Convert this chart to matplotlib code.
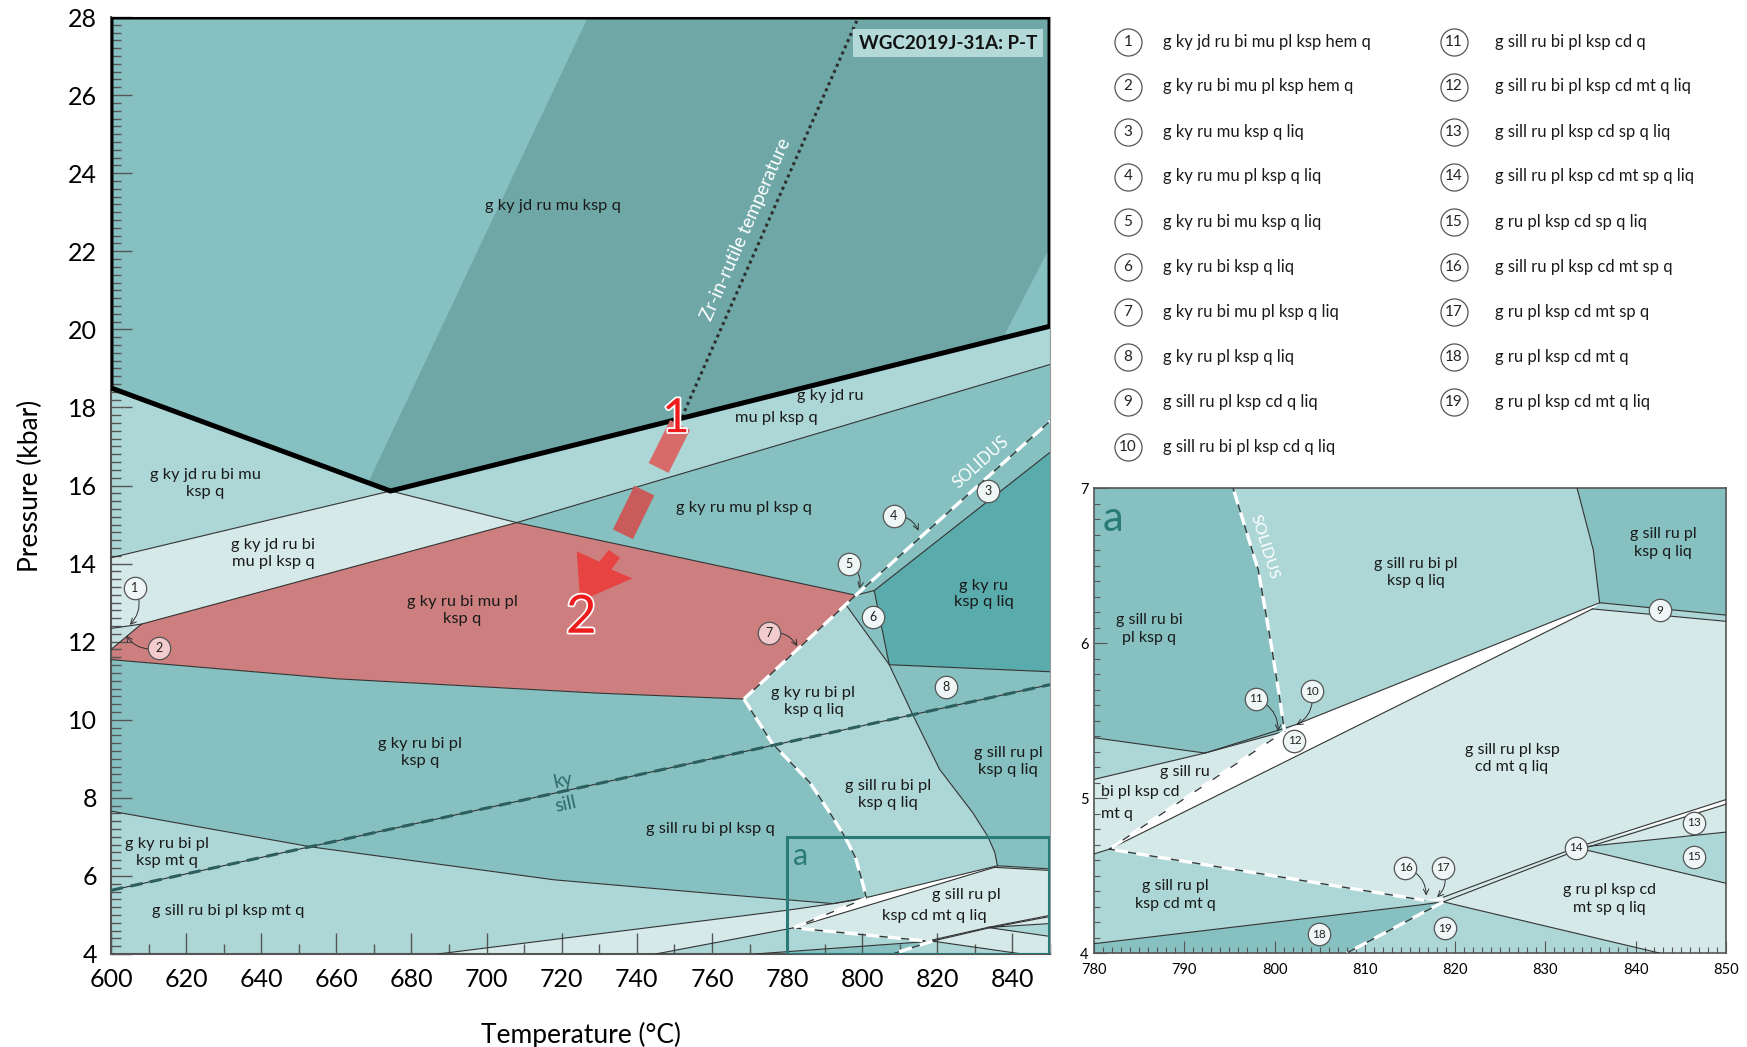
import numpy as np
import matplotlib.pyplot as plt
from matplotlib.patches import Polygon
from matplotlib.ticker import MultipleLocator
import matplotlib.patheffects as pe

plt.rcParams['font.family'] = ['Lato', 'DejaVu Sans']

# field colours
teal_dark = '#6fa7a7'
teal_mid = '#86c0c0'
teal_light = '#add6d6'
teal_pale = '#d5e9e9'
teal_deep = '#5aabab'
path_red = '#cd7e7e'
frame_teal = '#2a7a78'
line_grey = '#333333'

# ---------------- field polygons (T degC, P kbar) ----------------
top_field = [(600, 18.5), (600, 28), (850, 28), (850, 20.08), (674.4, 15.86)]
top_band = [(668.5, 16.08), (727, 28), (850, 28), (850, 22.1), (837.5, 19.78), (674.4, 15.86)]
top_corner = [(850, 22.1), (837.5, 19.78), (850, 20.08)]
jd_bi_mu = [(600, 18.5), (674.4, 15.86), (600, 14.15)]
jd_mu_pl = [(674.4, 15.86), (850, 20.08), (850, 19.1), (708, 15.05)]
jd_bi_mu_pl = [(600, 14.15), (674.4, 15.86), (708, 15.05), (608.1, 12.45), (600, 12.34)]
field_2 = [(600, 11.8), (600, 12.34), (608.1, 12.45)]
red_field = [(600, 11.54), (600, 11.8), (608.1, 12.45), (708, 15.05), (798.3, 13.19),
             (768.5, 10.53), (730, 10.68), (660, 11.05)]
ky_mu_pl = [(708, 15.05), (850, 19.1), (850, 17.65), (798.3, 13.19)]
field_3 = [(798.3, 13.19), (850, 17.65), (850, 16.85), (803.2, 13.31)]
ky_liq = [(803.2, 13.31), (850, 16.85), (850, 11.23), (807.2, 11.41)]
field_6 = [(795.7, 12.94), (798.3, 13.19), (803.2, 13.31), (807.2, 11.41)]

solidus_hi = [(768.5, 10.53), (798.3, 13.19), (850, 17.65)]
solidus_lo = [(768.5, 10.53), (776, 9.4), (786, 8.4), (791.5, 7.6), (795.4, 7.0),
              (798.2, 6.47), (799.6, 6.0), (800.5, 5.67), (801.1, 5.43)]
solidus_cd = [(801.1, 5.43), (781.7, 4.67), (816.6, 4.34)]
solidus_sp = [(818.7, 4.33), (808, 4.0)]
bi_out = [(795.7, 12.94), (807.2, 11.41), (813.5, 10.12), (820.6, 8.73), (829.5, 7.61),
          (833.5, 7.0), (835.3, 6.6), (836, 6.26)]
mt_in = [(600, 7.66), (653.5, 6.74), (718, 5.90), (760, 5.55), (792.3, 5.29)]
cd_in = [(687, 4.0), (780, 5.12), (792.3, 5.29), (802.2, 5.47), (836, 6.26)]

liq_bi = solidus_lo + [(802.2, 5.47), (836, 6.26)] + bi_out[::-1] + [(768.5, 10.53)]
liq_right = [(807.2, 11.41), (850, 11.23), (850, 6.18)] + bi_out[:1:-1]
field_9 = [(836, 6.26), (850, 6.18), (850, 6.14), (835.2, 6.22)]
bi_pl_q = [(600, 11.54), (660, 11.05), (730, 10.68)] + solidus_lo + mt_in[::-1]
bi_pl_mt = mt_in + [(780, 5.12), (687, 4.0), (600, 4.0)]
bi_cd_mt = [(687, 4.0), (780, 5.12), (792.3, 5.29), (801.1, 5.43), (781.7, 4.67), (745, 4.0)]
field_12 = [(781.7, 4.67), (801.1, 5.43), (802.2, 5.47), (836, 6.26), (835.2, 6.22)]
pl_cd_mt = [(745, 4.0), (781.7, 4.67), (816.6, 4.34), (818.7, 4.33), (816.1, 4.31),
            (780, 4.06), (771.5, 4.0)]
field_18 = [(771.5, 4.0), (780, 4.06), (816.1, 4.31), (818.7, 4.33), (808, 4.0)]
field_19 = [(808, 4.0), (818.7, 4.33), (842.6, 4.0)]
sp_liq = [(818.7, 4.33), (818.7, 4.36), (833.4, 4.68), (850, 4.45), (850, 4.0), (842.6, 4.0)]
field_15 = [(833.4, 4.68), (850, 4.78), (850, 4.45)]
field_13 = [(833.4, 4.68), (850, 4.96), (850, 4.78)]
cd_mt_liq = [(781.7, 4.67), (835.2, 6.22), (850, 6.14), (850, 4.99), (833.4, 4.68),
             (818.7, 4.36), (816.6, 4.34)]

FIELDS = [
    (top_field, teal_mid), (top_band, teal_dark), (top_corner, teal_mid),
    (jd_bi_mu, teal_light), (jd_mu_pl, teal_light), (jd_bi_mu_pl, teal_pale),
    (field_2, '#c6dfdf'), (red_field, path_red), (ky_mu_pl, teal_mid), (field_3, teal_mid),
    (ky_liq, teal_deep), (field_6, teal_mid), (liq_bi, teal_light), (liq_right, teal_mid),
    (field_9, teal_light), (bi_pl_q, teal_mid), (bi_pl_mt, teal_light), (bi_cd_mt, teal_pale),
    (field_12, 'white'), (pl_cd_mt, teal_light), (field_18, teal_mid), (field_19, teal_light),
    (sp_liq, teal_pale), (field_15, teal_light), (field_13, teal_pale), (cd_mt_liq, teal_pale),
]

# ---------------- thin field boundaries ----------------
BOUNDS = [
    [(600, 14.15), (674.4, 15.86)],
    [(674.4, 15.86), (708, 15.05), (798.3, 13.19)],
    [(600, 12.34), (608.1, 12.45), (708, 15.05), (850, 19.1)],
    [(600, 11.8), (608.1, 12.45)],
    [(600, 11.54), (660, 11.05), (730, 10.68), (768.5, 10.53)],
    [(803.2, 13.31), (850, 16.85)],
    [(798.3, 13.19), (803.2, 13.31), (807.2, 11.41), (850, 11.23)],
    bi_out,
    [(836, 6.26), (850, 6.18)], [(835.2, 6.22), (850, 6.14)],
    mt_in + [(801.1, 5.43)],
    cd_in,
    [(781.7, 4.67), (835.2, 6.22)],
    [(745, 4.0), (781.7, 4.67)],
    [(771.5, 4.0), (780, 4.06), (816.1, 4.31), (818.7, 4.33)],
    [(818.7, 4.36), (833.4, 4.68), (850, 4.99)],
    [(818.7, 4.33), (833.4, 4.66), (850, 4.96)],
    [(833.4, 4.68), (850, 4.78)], [(833.4, 4.68), (850, 4.45)],
    [(818.7, 4.33), (842.6, 4.0)],
]
SOLIDUS = [solidus_hi, solidus_lo, solidus_cd, solidus_sp]
ky_sill = [(600, 5.63), (850, 10.9)]
thick_outline = [(600, 18.5), (600, 28), (850, 28), (850, 20.08), (674.4, 15.86), (600, 18.5)]
zr_line = [(752, 17.75), (799, 28)]

# ---------------- labels ----------------
MAIN_LABELS = [
    ('g ky jd ru mu ksp q', 717.6, 23.15), ('g ky jd ru bi mu\nksp q', 625.1, 16.05),
    ('g ky jd ru bi\nmu pl ksp q', 643.2, 14.26), ('g ky ru bi mu pl\nksp q', 693.6, 12.8),
    ('g ky jd ru', 791.5, 18.3), ('mu pl ksp q', 777.2, 17.73),
    ('g ky ru mu pl ksp q', 768.6, 15.42), ('g ky ru\nksp q liq', 832.4, 13.22),
    ('g ky ru bi pl\nksp q liq', 787.0, 10.46), ('g ky ru bi pl\nksp q', 682.3, 9.16),
    ('g sill ru bi pl\nksp q liq', 806.9, 8.08), ('g sill ru pl\nksp q liq', 838.9, 8.94),
    ('g sill ru bi pl ksp q', 759.7, 7.2), ('g ky ru bi pl\nksp mt q', 615.0, 6.6),
    ('g sill ru bi pl ksp mt q', 631.3, 5.09), ('g sill ru pl', 827.6, 5.52),
    ('ksp cd mt q liq', 819.1, 4.98),
]
MAIN_NUMBERS = [('1', 606.4, 13.37), ('2', 612.9, 11.85), ('3', 833.6, 15.85),
                ('4', 808.4, 15.22), ('5', 796.6, 13.99), ('6', 803.0, 12.62),
                ('7', 775.1, 12.22), ('8', 822.3, 10.83)]
MAIN_POINTERS = {'1': (605, 12.43), '2': (604, 12.16), '4': (815, 14.84),
                 '5': (799.2, 13.36), '7': (782.7, 11.88)}
PINK_NUMBERS = ['2', '7']

INSET_LABELS = [
    ('g sill ru bi\npl ksp q', 786.1, 6.09), ('g sill ru bi pl\nksp q liq', 815.6, 6.455),
    ('g sill ru pl\nksp q liq', 843.0, 6.645), ('g sill ru pl ksp\ncd mt q liq', 826.3, 5.255),
    ('g sill ru pl\nksp cd mt q', 789.0, 4.375), ('g ru pl ksp cd\nmt sp q liq', 837.1, 4.35),
]
INSET_LEFT_LABELS = [('g sill ru', 787.3, 5.17), ('bi pl ksp cd', 780.8, 5.04), ('mt q', 780.8, 4.9)]
INSET_NUMBERS = [('9', 842.7, 6.21), ('10', 804.1, 5.69), ('11', 797.9, 5.64), ('12', 802.2, 5.37),
                 ('13', 846.5, 4.84), ('14', 833.4, 4.68), ('15', 846.5, 4.62), ('16', 814.5, 4.55),
                 ('17', 818.6, 4.55), ('18', 804.9, 4.12), ('19', 818.9, 4.16)]
INSET_POINTERS = {'11': (800.4, 5.43), '10': (802.4, 5.47), '16': (816.8, 4.37), '17': (818.0, 4.36)}

LEGEND = ['g ky jd ru bi mu pl ksp hem q', 'g ky ru bi mu pl ksp hem q', 'g ky ru mu ksp q liq',
          'g ky ru mu pl ksp q liq', 'g ky ru bi mu ksp q liq', 'g ky ru bi ksp q liq',
          'g ky ru bi mu pl ksp q liq', 'g ky ru pl ksp q liq', 'g sill ru pl ksp cd q liq',
          'g sill ru bi pl ksp cd q liq', 'g sill ru bi pl ksp cd q', 'g sill ru bi pl ksp cd mt q liq',
          'g sill ru pl ksp cd sp q liq', 'g sill ru pl ksp cd mt sp q liq', 'g ru pl ksp cd sp q liq',
          'g sill ru pl ksp cd mt sp q', 'g ru pl ksp cd mt sp q', 'g ru pl ksp cd mt q',
          'g ru pl ksp cd mt q liq']

# red P-T path
path_bar1 = [(751.5, 17.55), (745.8, 16.45)]
path_bar2 = [(742.0, 15.87), (736.3, 14.75)]
path_head = [(724, 14.31), (730, 14.05), (732.5, 14.35), (735.5, 14.15), (733.2, 13.85),
             (738.8, 13.62), (724.9, 13.04)]


def xy(pts):
    t, p = zip(*pts)
    return list(t), list(p)


def angle(ax, p0, p1):
    a = ax.transData.transform([p0, p1])
    return np.degrees(np.arctan2(a[1, 1] - a[0, 1], a[1, 0] - a[0, 0]))


def draw_fields(ax):
    for pts, col in FIELDS:
        ax.add_patch(Polygon(pts, closed=True, facecolor=col, edgecolor='none', zorder=1))
    for pts in BOUNDS:
        ax.plot(*xy(pts), color=line_grey, lw=0.8, zorder=3)
    for pts in SOLIDUS:
        ax.plot(*xy(pts), color=line_grey, lw=0.9, zorder=3)
        ax.plot(*xy(pts), color='white', lw=2.4, dashes=(4, 2.5), zorder=4)
    ax.plot(*xy(ky_sill), color=line_grey, lw=0.8, zorder=3)
    ax.plot(*xy(ky_sill), color='#2d5f5f', lw=2.2, dashes=(4, 2.5), zorder=4)


def circled(ax, items, pointers, size, fs, pink=()):
    for lab, t, p in items:
        if lab in pointers:
            ax.annotate('', xy=pointers[lab], xytext=(t, p), zorder=5,
                        arrowprops=dict(arrowstyle='->', lw=0.7, color=line_grey,
                                        shrinkA=8, shrinkB=0,
                                        connectionstyle='arc3,rad=-0.35'))
        fc = '#f2cccc' if lab in pink else '#eef6f6'
        ax.scatter([t], [p], s=size, facecolor=fc, edgecolor='#555555', lw=0.9, zorder=6)
        ax.text(t, p, lab, ha='center', va='center', fontsize=fs, color='#222222', zorder=7)


fig = plt.figure(figsize=(17.47, 10.47), dpi=100)

# ================= main P-T section =================
ax = fig.add_axes([0.06354, 0.08883, 0.5375, 0.8949])
ax.set_xlim(600, 850)
ax.set_ylim(4, 28)
draw_fields(ax)
ax.plot(*xy(thick_outline), color='black', lw=3.6, zorder=5, solid_joinstyle='miter')
ax.plot(*xy(zr_line), color='#2e2e2e', lw=2.2, ls=(0, (1, 1.2)), zorder=4)

ax.plot(*xy(path_bar1), color='#d86a6a', lw=16, solid_capstyle='butt', zorder=6)
ax.plot(*xy(path_bar2), color='#c95b5b', lw=16, solid_capstyle='butt', zorder=6)
ax.add_patch(Polygon(path_head, closed=True, facecolor='#e84343', edgecolor='none', zorder=6))
for num, t, p, fs in [('1', 750.4, 17.7, 34), ('2', 725.2, 12.6, 38)]:
    ax.text(t, p, num, color='#ee1c1c', fontsize=fs, ha='center', va='center', zorder=8,
            path_effects=[pe.withStroke(linewidth=2.5, foreground='white')])

for txt, t, p in MAIN_LABELS:
    ax.text(t, p, txt, ha='center', va='center', fontsize=11.8, linespacing=1.25,
            color='#1a1a1a', zorder=7)

ax.text(769.0, 22.55, 'Zr-in-rutile temperature', color='white', fontsize=13.5,
        rotation=angle(ax, *zr_line), ha='center', va='center', zorder=7)
ax.text(831.5, 16.6, 'SOLIDUS', color='white', fontsize=12,
        rotation=angle(ax, (798.3, 13.19), (850, 17.65)), ha='center', va='center', zorder=7)
rot_ks = angle(ax, *ky_sill)
ax.text(720.5, 8.45, 'ky', color='#2d6767', fontsize=13.5, rotation=rot_ks,
        ha='center', va='center', zorder=7)
ax.text(721.0, 7.83, 'sill', color='#2d6767', fontsize=13.5, rotation=rot_ks,
        ha='center', va='center', zorder=7)
ax.text(822.8, 27.33, 'WGC2019J-31A: P-T', fontsize=13.5, fontweight='bold', color='#111111',
        ha='center', va='center', zorder=8,
        bbox=dict(boxstyle='square,pad=0.3', facecolor='#b4d9d9', edgecolor='none'))

circled(ax, MAIN_NUMBERS, MAIN_POINTERS, 260, 9, PINK_NUMBERS)

ax.add_patch(plt.Rectangle((780, 4.0), 69.6, 3.0, facecolor='none', edgecolor=frame_teal,
                           lw=2.2, zorder=8))
ax.text(781.5, 6.5, 'a', color=frame_teal, fontsize=22, ha='left', va='center', zorder=8)

ax.xaxis.set_major_locator(MultipleLocator(20))
ax.xaxis.set_minor_locator(MultipleLocator(10))
ax.yaxis.set_major_locator(MultipleLocator(2))
ax.yaxis.set_minor_locator(MultipleLocator(0.2))
ax.tick_params(which='both', direction='in', color='#555555', width=1, zorder=9)
ax.tick_params(which='major', length=15, labelsize=18, pad=10)
ax.tick_params(which='minor', length=7)
for side in ['left', 'bottom']:
    ax.spines[side].set_color('#555555')
    ax.spines[side].set_linewidth(1.5)
for side in ['top', 'right']:
    ax.spines[side].set_color('#999999')
    ax.spines[side].set_linewidth(0.8)
ax.set_xlabel('Temperature (°C)', fontsize=19, labelpad=22)
ax.set_ylabel('Pressure (kbar)', fontsize=19, labelpad=18)

# ================= enlarged window a =================
axi = fig.add_axes([0.6262, 0.08978, 0.3618, 0.4441])
axi.set_xlim(780, 850)
axi.set_ylim(4, 7)
draw_fields(axi)
for txt, t, p in INSET_LABELS:
    axi.text(t, p, txt, ha='center', va='center', fontsize=11.5, linespacing=1.35,
             color='#1a1a1a', zorder=7)
for txt, t, p in INSET_LEFT_LABELS:
    axi.text(t, p, txt, ha='left', va='center', fontsize=11.5, color='#1a1a1a', zorder=7)
axi.text(798.9, 6.62, 'SOLIDUS', color='white', fontsize=11.5,
         rotation=angle(axi, (795.4, 7.0), (798.2, 6.47)), ha='center', va='center', zorder=7)
axi.text(781.0, 6.8, 'a', color=frame_teal, fontsize=30, ha='left', va='center', zorder=8)
circled(axi, INSET_NUMBERS, INSET_POINTERS, 260, 8.5)

axi.xaxis.set_major_locator(MultipleLocator(10))
axi.xaxis.set_minor_locator(MultipleLocator(1))
axi.yaxis.set_major_locator(MultipleLocator(1))
axi.yaxis.set_minor_locator(MultipleLocator(0.1))
axi.tick_params(which='both', direction='in', color='#555555', width=0.8, zorder=9)
axi.tick_params(which='major', length=9, labelsize=10.5)
axi.tick_params(axis='x', which='major', pad=7)
axi.tick_params(axis='y', which='major', pad=4)
axi.tick_params(which='minor', length=4)
for s in axi.spines.values():
    s.set_color('#555555')
    s.set_linewidth(1.2)

# ================= numbered field key =================
key = fig.add_axes([0, 0, 1, 1])
key.set_xlim(0, 1747)
key.set_ylim(1047, 0)
key.axis('off')
rows = [41.5, 86.5, 131.5, 176.5, 221.5, 267, 312, 357, 401.5, 447]
for i, txt in enumerate(LEGEND):
    if i < 10:
        cx, tx, y = 1128, 1163, rows[i]
    else:
        cx, tx, y = 1454, 1495, rows[i - 10]
    key.scatter([cx], [y], s=380, facecolor='white', edgecolor='#555555', lw=0.9)
    key.text(cx, y, str(i + 1), ha='center', va='center', fontsize=11, color='#222222')
    key.text(tx, y, txt, ha='left', va='center', fontsize=12, color='#1a1a1a')

fig.savefig('out.png', dpi=100)
